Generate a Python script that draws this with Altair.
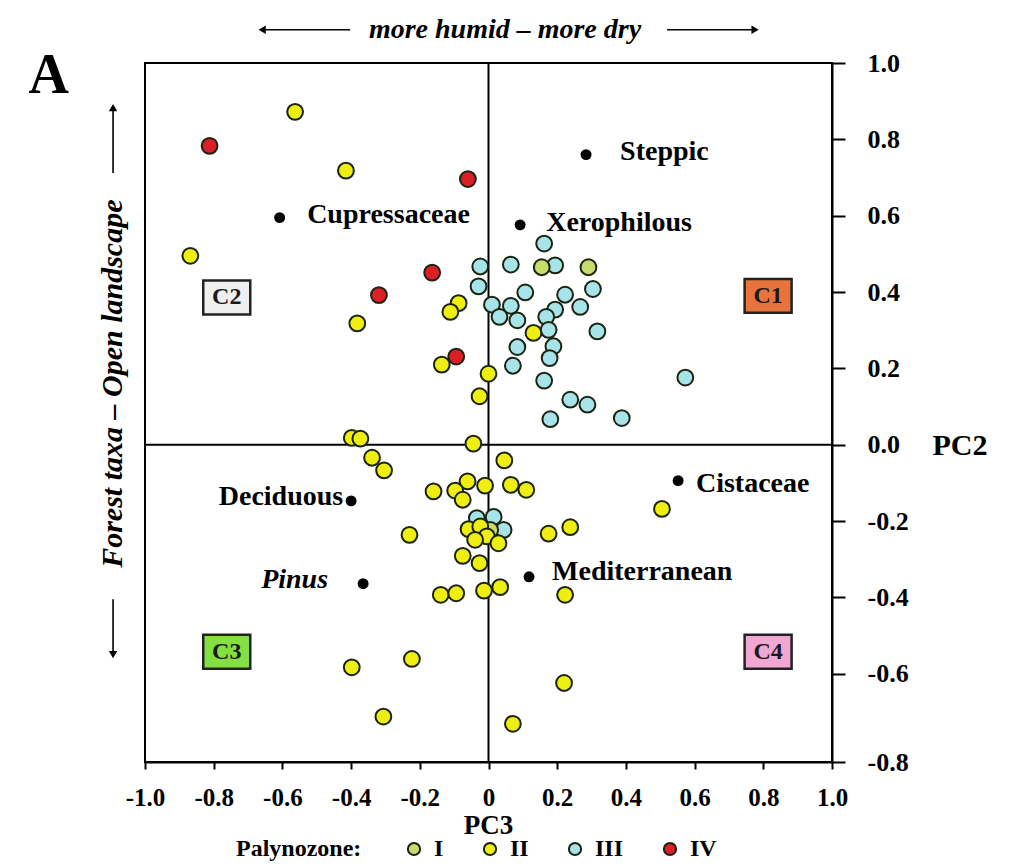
import altair as alt
import pandas as pd

FONT = "Liberation Serif"

# ---- sample scores (PC3 = x, PC2 = y) by palynozone ----
zone_III_x = [0.162, -0.024, 0.065, 0.194, -0.029, 0.304, 0.107, 0.223, 0.010, 0.065,
              0.194, 0.267, 0.032, 0.084, 0.168, 0.175, 0.317, 0.084, 0.189, 0.178,
              0.071, 0.162, 0.238, 0.288, 0.180, 0.388, 0.573, -0.034, 0.015, 0.044]
zone_III_y = [0.527, 0.467, 0.472, 0.470, 0.415, 0.408, 0.399, 0.393, 0.367, 0.364,
              0.354, 0.361, 0.335, 0.326, 0.335, 0.301, 0.297, 0.256, 0.258, 0.227,
              0.207, 0.168, 0.118, 0.105, 0.067, 0.070, 0.176, -0.192, -0.189, -0.223]
zone_IV_x = [-0.812, -0.060, -0.164, -0.319, -0.094]
zone_IV_y = [0.783, 0.696, 0.451, 0.392, 0.231]
zone_I_x = [0.155, 0.291, 0.005]
zone_I_y = [0.465, 0.465, -0.223]
zone_II_x = [-0.563, -0.415, -0.868, -0.087, -0.111, -0.382, -0.136, 0.000, -0.026, 0.131,
             -0.398, -0.373, -0.339, -0.304, -0.044, 0.046, -0.061, -0.010, 0.065, 0.110,
             -0.160, -0.097, -0.075, -0.058, -0.024, -0.005, 0.029, -0.039, -0.230, 0.175,
             0.238, -0.075, -0.026, -0.139, -0.094, -0.013, 0.034, 0.223, 0.505, -0.398,
             -0.223, -0.306, 0.071, 0.220]
zone_II_y = [0.872, 0.718, 0.495, 0.371, 0.348, 0.318, 0.210, 0.186, 0.127, 0.293,
             0.018, 0.016, -0.034, -0.067, 0.003, -0.041, -0.096, -0.107, -0.105, -0.118,
             -0.122, -0.120, -0.144, -0.221, -0.214, -0.240, -0.258, -0.249, -0.236, -0.233,
             -0.216, -0.291, -0.310, -0.393, -0.389, -0.382, -0.373, -0.393, -0.168, -0.583,
             -0.561, -0.712, -0.731, -0.624]

zone_names = ["I", "II", "III", "IV"]
zone_colors = ["#c8dc6c", "#eeee10", "#a6e4ea", "#dc1f26"]

# ---- taxa vectors ----
taxa_names = ["Steppic", "Cupressaceae", "Xerophilous", "Cistaceae", "Deciduous", "Mediterranean", "Pinus"]
taxa_x = [0.284, -0.608, 0.092, 0.552, -0.400, 0.118, -0.365]
taxa_y = [0.760, 0.595, 0.576, -0.094, -0.147, -0.346, -0.364]
taxa_label_x = [0.383, -0.528, 0.168, 0.604, -0.423, 0.185, -0.467]
taxa_label_y = [0.768, 0.603, 0.582, -0.102, -0.136, -0.333, -0.354]
taxa_label_align = ["left", "left", "left", "left", "right", "left", "right"]
taxa_label_style = ["normal", "normal", "normal", "normal", "normal", "normal", "italic"]

# ---- quadrant boxes ----
quad_names = ["C1", "C2", "C3", "C4"]
quad_x = [0.814, -0.762, -0.762, 0.814]
quad_y = [0.390, 0.386, -0.542, -0.542]
quad_fill = ["#e8733c", "#efefef", "#84e040", "#f2a6d2"]

# ---- tick values ----
x_ticks = [-1.0, -0.8, -0.6, -0.4, -0.2, 0.0, 0.2, 0.4, 0.6, 0.8, 1.0]
y_ticks = [-0.831, -0.6, -0.4, -0.2, 0.0, 0.2, 0.4, 0.6, 0.8, 1.0]

# ---- annotation texts ----
top_text = "more humid \u2013 more dry"
left_text = "Forest taxa \u2013 Open landscape"
panel_letter = "A"
top_text_pos = (0.048, 1.087)
left_text_pos = (-1.093, 0.160)
letter_pos = (-1.28, 0.965)
h_arrow_x = [-0.659, -0.403, 0.520, 0.776]
h_arrow_y = 1.087
v_arrow_x = -1.093
v_arrow_y = [0.883, 0.712, -0.405, -0.550]

# ---------------- build ----------------
pts = pd.DataFrame({
    "x": zone_III_x + zone_IV_x + zone_I_x + zone_II_x,
    "y": zone_III_y + zone_IV_y + zone_I_y + zone_II_y,
    "zone": ["III"] * len(zone_III_x) + ["IV"] * len(zone_IV_x) + ["I"] * len(zone_I_x) + ["II"] * len(zone_II_x),
})
pts["order"] = range(len(pts))

xs = alt.Scale(domain=[-1.0, 1.0], nice=False, zero=False)
ys = alt.Scale(domain=[-0.831, 1.0], nice=False, zero=False)

x_axis = alt.Axis(
    orient="bottom", values=x_ticks,
    labelExpr="datum.value == 0 ? '0' : replace(format(datum.value, '.1f'), '\u2212', '-')",
    labelFont=FONT, labelFontSize=25, labelFontWeight="bold", labelColor="black",
    labelFlush=False, labelOverlap=False, labelPadding=16,
    tickColor="black", tickSize=7, tickWidth=2,
    domainColor="black", domainWidth=2, grid=False,
    title="PC3", titleFont=FONT, titleFontSize=27, titleFontWeight="bold", titleColor="black",
    titleX=343, titleY=63, titleBaseline="middle", titleAlign="center", titleAngle=0,
)
y_axis = alt.Axis(
    orient="right", values=y_ticks,
    labelExpr="replace(format(datum.value, '.1f'), '\u2212', '-')",
    labelFont=FONT, labelFontSize=26, labelFontWeight="bold", labelColor="black",
    labelFlush=False, labelOverlap=False, labelPadding=22, labelAlign="left",
    tickColor="black", tickSize=13, tickWidth=2,
    domainColor="black", domainWidth=2, grid=False,
    title="PC2", titleFont=FONT, titleFontSize=30, titleFontWeight="bold", titleColor="black",
    titleAngle=0, titleX=100, titleY=382, titleAlign="left", titleBaseline="middle",
)


def X(field="x"):
    return alt.X(f"{field}:Q", scale=xs, axis=x_axis)


def Y(field="y"):
    return alt.Y(f"{field}:Q", scale=ys, axis=y_axis)


zero_v = alt.Chart(pd.DataFrame({"x": [0.0]})).mark_rule(color="black", strokeWidth=2).encode(x=X())
zero_h = alt.Chart(pd.DataFrame({"y": [0.0]})).mark_rule(color="black", strokeWidth=2).encode(y=Y())

points = alt.Chart(pts).mark_circle(size=250, opacity=1, stroke="#1b2410", strokeWidth=2).encode(
    x=X(), y=Y(),
    color=alt.Color("zone:N", scale=alt.Scale(domain=zone_names, range=zone_colors),
                    legend=alt.Legend(
                        title="Palynozone:", orient="none", legendX=91, legendY=774,
                        direction="horizontal", titleOrient="left",
                        titleFont=FONT, titleFontSize=24, titleFontWeight="bold", titleColor="black",
                        labelFont=FONT, labelFontSize=24, labelFontWeight="bold", labelColor="black",
                        symbolType="circle", symbolSize=150, symbolStrokeColor="#1b2410",
                        symbolStrokeWidth=2, symbolOpacity=1, columnPadding=34, labelOffset=8,
                        titlePadding=40)),
    order=alt.Order("order:Q"),
)

taxa_df = pd.DataFrame({"x": taxa_x, "y": taxa_y, "name": taxa_names})
taxa_pts = alt.Chart(taxa_df).mark_circle(size=120, color="black", opacity=1).encode(x=X(), y=Y())

lab_df = pd.DataFrame({"x": taxa_label_x, "y": taxa_label_y, "name": taxa_names,
                       "align": taxa_label_align, "style": taxa_label_style})
taxa_layers = []
for al in ["left", "right"]:
    for st in ["normal", "italic"]:
        sub = lab_df[(lab_df["align"] == al) & (lab_df["style"] == st)]
        if len(sub) == 0:
            continue
        taxa_layers.append(
            alt.Chart(sub).mark_text(align=al, baseline="middle", font=FONT, fontSize=28,
                                     fontWeight="bold", fontStyle=st, color="black")
            .encode(x=X(), y=Y(), text="name:N"))

quad_df = pd.DataFrame({"x": quad_x, "y": quad_y, "name": quad_names, "fill": quad_fill})
quad_boxes = alt.Chart(quad_df).mark_point(
    shape="M-1,-0.723L1,-0.723L1,0.723L-1,0.723Z", size=2209, filled=True, opacity=1,
    stroke="#222222", strokeWidth=2.5).encode(
    x=X(), y=Y(), fill=alt.Fill("fill:N", scale=None))
quad_text = alt.Chart(quad_df).mark_text(font=FONT, fontSize=24, fontWeight="bold",
                                         color="#1a1a1a", baseline="middle").encode(
    x=X(), y=Y(), text="name:N")

ann_df = pd.DataFrame({"x": [top_text_pos[0]], "y": [top_text_pos[1]], "t": [top_text]})
top_ann = alt.Chart(ann_df).mark_text(font=FONT, fontSize=28, fontWeight="bold", fontStyle="italic",
                                      color="black", baseline="middle").encode(x=X(), y=Y(), text="t:N")
left_df = pd.DataFrame({"x": [left_text_pos[0]], "y": [left_text_pos[1]], "t": [left_text]})
left_ann = alt.Chart(left_df).mark_text(font=FONT, fontSize=30, fontWeight="bold", fontStyle="italic",
                                        color="black", baseline="middle", angle=270).encode(
    x=X(), y=Y(), text="t:N")
letter_df = pd.DataFrame({"x": [letter_pos[0]], "y": [letter_pos[1]], "t": [panel_letter]})
letter = alt.Chart(letter_df).mark_text(font=FONT, fontSize=56, fontWeight="bold", color="black",
                                        baseline="middle").encode(x=X(), y=Y(), text="t:N")

# arrows
h_df = pd.DataFrame({"x": [h_arrow_x[0], h_arrow_x[2]], "x2": [h_arrow_x[1], h_arrow_x[3]],
                     "y": [h_arrow_y, h_arrow_y]})
h_lines = alt.Chart(h_df).mark_rule(color="black", strokeWidth=1.6).encode(x=X(), x2="x2:Q", y=Y())
v_df = pd.DataFrame({"x": [v_arrow_x, v_arrow_x], "y": [v_arrow_y[0], v_arrow_y[2]],
                     "y2": [v_arrow_y[1], v_arrow_y[3]]})
v_lines = alt.Chart(v_df).mark_rule(color="black", strokeWidth=1.6).encode(x=X(), y=Y(), y2="y2:Q")
head_df = pd.DataFrame({
    "x": [h_arrow_x[0], h_arrow_x[3], v_arrow_x, v_arrow_x],
    "y": [h_arrow_y, h_arrow_y, v_arrow_y[0], v_arrow_y[3]],
    "shape": ["triangle-left", "triangle-right", "triangle-up", "triangle-down"],
})
heads = alt.Chart(head_df).mark_point(filled=True, size=70, color="black", opacity=1).encode(
    x=X(), y=Y(), shape=alt.Shape("shape:N", scale=None))

chart = alt.layer(
    zero_v, zero_h, quad_boxes, quad_text, points, taxa_pts, *taxa_layers,
    top_ann, left_ann, letter, h_lines, v_lines, heads,
).properties(
    width=687, height=699,
    autosize=alt.AutoSizeParams(type="none"),
    padding={"left": 145, "top": 63, "right": 179, "bottom": 105},
    background="white",
).configure_view(stroke="black", strokeWidth=2)

chart.save("out.html", embed_options={"renderer": "svg", "actions": False})
